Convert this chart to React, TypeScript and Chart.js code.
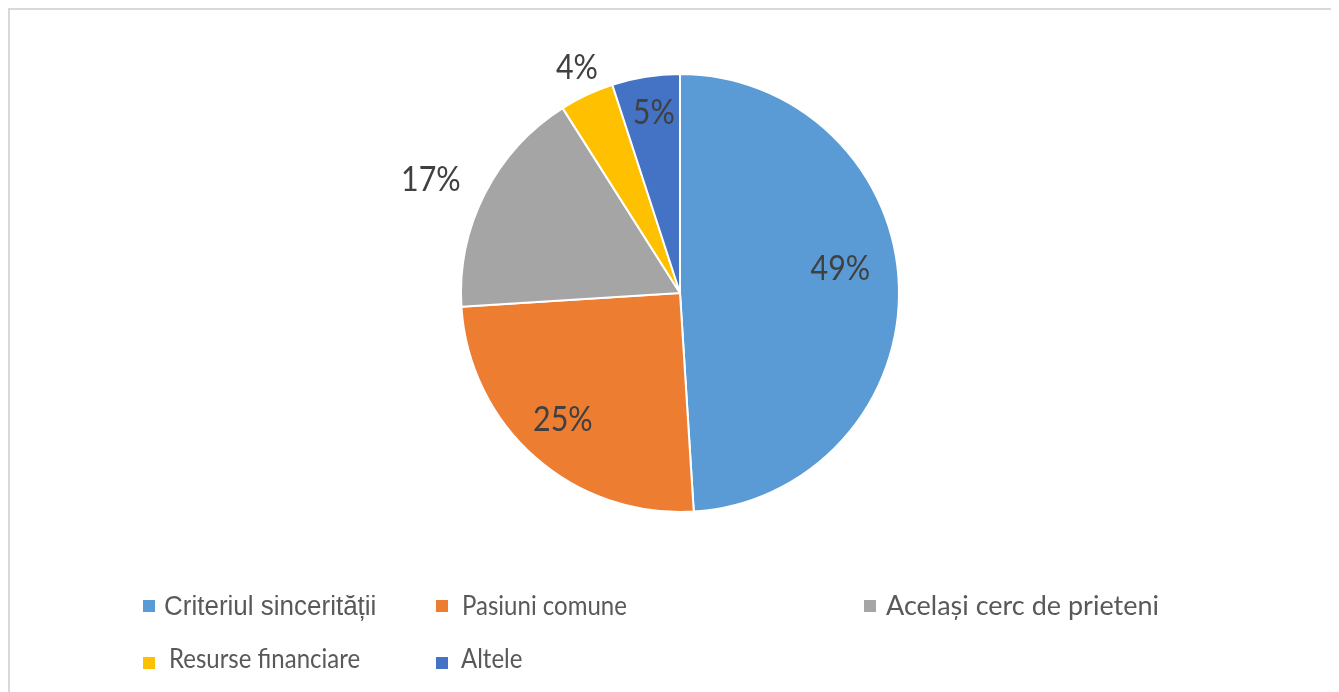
import React, { useEffect, useRef } from "react";
import { Chart, registerables } from "chart.js";

Chart.register(...registerables);

const categories = [
  "Criteriul sincerității",
  "Pasiuni comune",
  "Același cerc de prieteni",
  "Resurse financiare",
  "Altele",
];
const values = [49, 25, 17, 4, 5];
const percentLabels = ["49%", "25%", "17%", "4%", "5%"];
const colors = ["#5B9BD5", "#ED7D31", "#A5A5A5", "#FFC000", "#4472C4"];

// label placement: angle offset from slice middle (deg), radius factor
const labelPlacement = [
  { dAng: -6.6, rf: 0.74 },
  { dAng: 1.2, rf: 0.79 },
  { dAng: -2.5, rf: 1.25 },
  { dAng: 0.6, rf: 1.13 },
  { dAng: 0.7, rf: 0.83 },
];

// legend layout (canvas coords)
const legendLayout = [
  { sx: 135, sy: 592, tx: 156, ty: 607, font: "26px 'Liberation Sans', Arial, sans-serif", ys: 1.04 },
  { sx: 428, sy: 592, tx: 454, ty: 607, font: "24px Lato, sans-serif", ys: 1.12 },
  { sx: 856, sy: 592, tx: 878, ty: 607, font: "27px Lato, sans-serif", ys: 1.02 },
  { sx: 135, sy: 649, tx: 161, ty: 660, font: "24px Lato, sans-serif", ys: 1.12 },
  { sx: 428, sy: 649, tx: 453, ty: 660, font: "24px Lato, sans-serif", ys: 1.12 },
];

const framePlugin = {
  id: "frame",
  beforeDraw(chart: any) {
    const ctx = chart.ctx;
    ctx.save();
    ctx.fillStyle = "#ffffff";
    ctx.fillRect(0, 0, chart.width, chart.height);
    ctx.strokeStyle = "#D9D9D9";
    ctx.lineWidth = 2;
    ctx.beginPath();
    ctx.moveTo(1, chart.height);
    ctx.lineTo(1, 1);
    ctx.lineTo(chart.width, 1);
    ctx.stroke();
    ctx.restore();
  },
};

const labelsPlugin = {
  id: "pctLabels",
  afterDatasetsDraw(chart: any) {
    const ctx = chart.ctx;
    const meta = chart.getDatasetMeta(0);
    meta.data.forEach((arc: any, i: number) => {
      const p = arc.getProps(["x", "y", "startAngle", "endAngle", "outerRadius"], true);
      const mid = (p.startAngle + p.endAngle) / 2 + (labelPlacement[i].dAng * Math.PI) / 180;
      const r = p.outerRadius * labelPlacement[i].rf;
      const lx = p.x + Math.cos(mid) * r;
      const ly = p.y + Math.sin(mid) * r;
      ctx.save();
      ctx.translate(lx, ly);
      ctx.scale(0.95, 1.08);
      ctx.fillStyle = "#404040";
      ctx.font = "32px Lato, sans-serif";
      ctx.textAlign = "center";
      ctx.textBaseline = "middle";
      ctx.fillText(percentLabels[i], 0, 0);
      ctx.restore();
    });
  },
};

const legendPlugin = {
  id: "customLegend",
  afterDraw(chart: any) {
    const ctx = chart.ctx;
    categories.forEach((c, i) => {
      const L = legendLayout[i];
      ctx.save();
      ctx.fillStyle = colors[i];
      ctx.fillRect(L.sx, L.sy, 12, 12);
      ctx.translate(L.tx, L.ty);
      ctx.scale(1, L.ys);
      ctx.textBaseline = "alphabetic";
      ctx.textAlign = "left";
      ctx.fillStyle = "#595959";
      ctx.font = L.font;
      ctx.fillText(c, 0, 0);
      ctx.restore();
    });
  },
};

export default function App() {
  const ref = useRef<HTMLCanvasElement>(null);
  useEffect(() => {
    if (!ref.current) return;
    const chart = new Chart(ref.current, {
      type: "pie",
      data: {
        labels: categories,
        datasets: [
          {
            data: values,
            backgroundColor: colors,
            borderColor: "#ffffff",
            borderWidth: 2,
          },
        ],
      },
      options: {
        responsive: false,
        animation: false,
        layout: { padding: { top: 65, bottom: 179, left: 452, right: 439 } },
        plugins: {
          legend: { display: false },
          tooltip: { enabled: false },
        },
      },
      plugins: [framePlugin, labelsPlugin, legendPlugin],
    });
    return () => chart.destroy();
  }, []);
  return (
    <div style={{ width: 1331, height: 684 }}>
      <canvas ref={ref} width={1331} height={684} style={{ display: "block" }} />
    </div>
  );
}
